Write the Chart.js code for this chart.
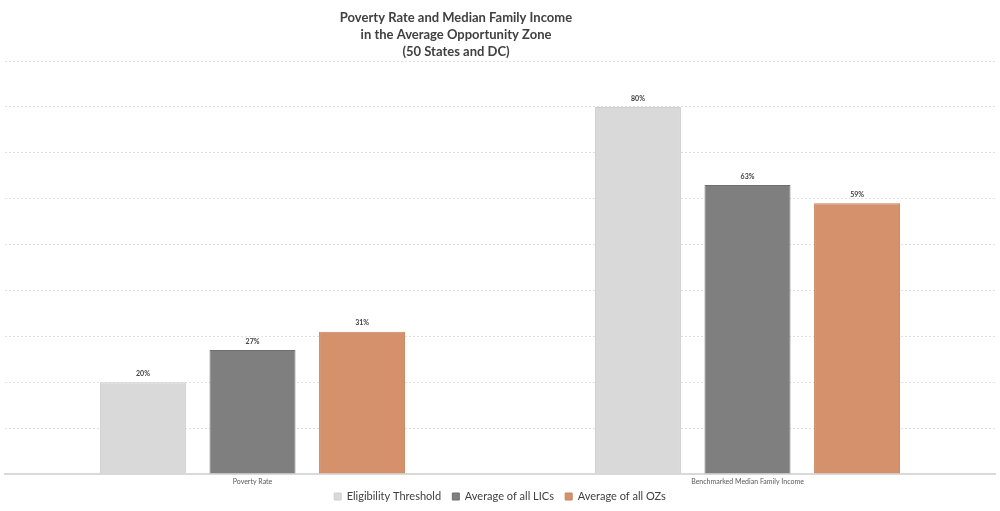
<!DOCTYPE html>
<html>
<head>
<meta charset="utf-8">
<script src="https://cdn.jsdelivr.net/npm/chart.js@4"></script>
<style>
  html, body { margin: 0; padding: 0; background: #fff; }
  #wrap { width: 1000px; height: 511px; }
</style>
</head>
<body>
<div id="wrap"><canvas id="barChart"></canvas></div>
<script>
const categories = ["Poverty Rate", "Benchmarked Median Family Income"];
const eligibility = [20, 80];
const avgLICs = [27, 63];
const avgOZs = [31, 59];
const titleLines = [
  "Poverty Rate and Median Family Income",
  "in the Average Opportunity Zone",
  "(50 States and DC)",
];

const FONT = "Lato, 'Open Sans', sans-serif";

// value labels above each bar
const barLabels = {
  id: "barLabels",
  afterDatasetsDraw(chart) {
    const ctx = chart.ctx;
    ctx.save();
    ctx.font = "bold 7px " + FONT;
    ctx.fillStyle = "#404040";
    ctx.textAlign = "center";
    ctx.textBaseline = "bottom";
    chart.data.datasets.forEach((ds, i) => {
      chart.getDatasetMeta(i).data.forEach((bar, j) => {
        ctx.fillText(ds.data[j] + "%", bar.x, bar.y - 5);
      });
    });
    ctx.restore();
  },
};

// title sits left of centre in the original, so draw it by hand
const offsetTitle = {
  id: "offsetTitle",
  afterDraw(chart) {
    const ctx = chart.ctx;
    ctx.save();
    ctx.font = "bold 13px " + FONT;
    ctx.fillStyle = "#404040";
    ctx.textAlign = "center";
    ctx.textBaseline = "middle";
    titleLines.forEach((line, i) => {
      ctx.fillText(line, 456, 18 + i * 17);
    });
    ctx.restore();
  },
};

new Chart(document.getElementById("barChart"), {
  type: "bar",
  data: {
    labels: categories,
    datasets: [
      {
        label: "Eligibility Threshold",
        data: eligibility,
        backgroundColor: "#d9d9d9",
        borderColor: "#cfcfcf",
        borderWidth: 1,
      },
      {
        label: "Average of all LICs",
        data: avgLICs,
        backgroundColor: "#7f7f7f",
        borderColor: "#6f6f6f",
        borderWidth: 1,
      },
      {
        label: "Average of all OZs",
        data: avgOZs,
        backgroundColor: "#d5916c",
        borderColor: "#c9845f",
        borderWidth: 1,
      },
    ],
  },
  options: {
    responsive: true,
    maintainAspectRatio: false,
    animation: false,
    categoryPercentage: 0.664,
    barPercentage: 0.785,
    layout: { padding: { left: 5, right: 5, top: 61, bottom: -1 } },
    plugins: {
      title: { display: false },
      legend: {
        position: "bottom",
        labels: {
          boxWidth: 7,
          boxHeight: 7,
          color: "#404040",
          padding: 0,
          font: { family: FONT, size: 11 },
          generateLabels(chart) {
            const items = Chart.defaults.plugins.legend.labels.generateLabels(chart);
            items.forEach((it, i) => {
              if (i < items.length - 1) it.text = it.text + "    ";
            });
            return items;
          },
        },
      },
      tooltip: { enabled: false },
    },
    scales: {
      x: {
        grid: { display: false, drawTicks: false, tickLength: 0 },
        border: { color: "#d9d9d9", width: 2 },
        ticks: { color: "#595959", font: { family: FONT, size: 7, lineHeight: 1 }, padding: 4 },
        afterFit(s) { s.height += 2; },
      },
      y: {
        min: 0,
        max: 90,
        ticks: { display: false, stepSize: 10 },
        border: { display: false, dash: [2, 2] },
        grid: { color: "#e0e0e0", lineWidth: 1, tickLength: 0 },
        afterFit(s) { s.width = 0; },
      },
    },
  },
  plugins: [barLabels, offsetTitle],
});
</script>
</body>
</html>
